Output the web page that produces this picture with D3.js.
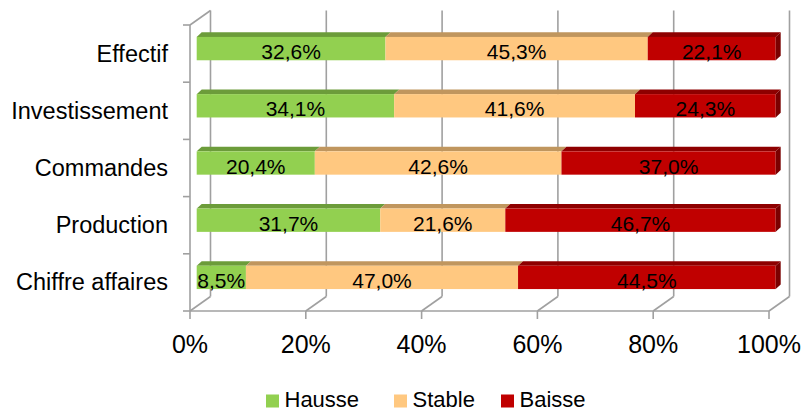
<!DOCTYPE html>
<html><head><meta charset="utf-8">
<script src="https://cdn.jsdelivr.net/npm/d3@7"></script>
<style>body{margin:0;background:#fff}svg{display:block;font-family:"Liberation Sans",Arial,sans-serif}</style>
</head><body><svg id="c" width="805" height="411"></svg>
<script>
const categories = ["Effectif","Investissement","Commandes","Production","Chiffre affaires"];
const seriesNames = ["Hausse","Stable","Baisse"];
const hausse = [32.6, 34.1, 20.4, 31.7, 8.5];
const stable = [45.3, 41.6, 42.6, 21.6, 47.0];
const baisse = [22.1, 24.3, 37.0, 46.7, 44.5];
const tickValues = [0,20,40,60,80,100];
const tickLabels = ["0%","20%","40%","60%","80%","100%"];

const frontCol = ["#92D050","#FFC880","#C00000"];
const topCol = ["#6C9C3A","#C0965E","#8E0000"];
const sideCol = "#7A0000";

const svg = d3.select("#c");
const X0 = 190, Y0 = 25, Y1 = 311;
const D = {x:20.5, y:-14.5};       // wall depth
const B0 = {x:6.7, y:-5.0};        // bar front offset
const BD = {x:5, y:-4.6};          // bar depth

const x = d3.scaleLinear().domain([0,100]).range([0,579]);
const y = d3.scaleBand().domain(categories).range([Y0,Y1]);
const barH = y.bandwidth()*0.408;

const grid = "#A0A0A0";
const g = svg.append("g");
tickValues.forEach(v=>{
  const fx = X0 + x(v);
  g.append("line").attr("x1",fx+D.x).attr("x2",fx+D.x).attr("y1",Y0+D.y).attr("y2",Y1+D.y)
    .attr("stroke",grid).attr("stroke-width",1.6);
  g.append("line").attr("x1",fx).attr("x2",fx+D.x).attr("y1",Y1).attr("y2",Y1+D.y)
    .attr("stroke",grid).attr("stroke-width",1.6);
  g.append("line").attr("x1",fx).attr("x2",fx).attr("y1",Y1).attr("y2",Y1+8)
    .attr("stroke",grid).attr("stroke-width",1.6);
});
g.append("line").attr("x1",X0).attr("y1",Y0).attr("x2",X0+D.x).attr("y2",Y0+D.y).attr("stroke",grid).attr("stroke-width",1.6);
g.append("line").attr("x1",X0).attr("x2",X0).attr("y1",Y0).attr("y2",Y1).attr("stroke",grid).attr("stroke-width",1.6);
g.append("line").attr("x1",X0).attr("x2",X0+x(100)).attr("y1",Y1).attr("y2",Y1).attr("stroke",grid).attr("stroke-width",1.6);
const yt = [Y0, ...categories.map(c=>y(c)+y.bandwidth())];
yt.forEach(t=>g.append("line").attr("x1",X0-7).attr("x2",X0).attr("y1",t).attr("y2",t).attr("stroke",grid).attr("stroke-width",1.6));

const series = [hausse, stable, baisse];
categories.forEach((c,i)=>{
  const cy = y(c) + y.bandwidth()/2 + B0.y;
  const top = cy - barH/2, bot = cy + barH/2;
  let acc = 0;
  series.forEach((s,k)=>{
    const v = s[i];
    const xa = X0 + B0.x + x(acc), xb = X0 + B0.x + x(acc+v);
    svg.append("path").attr("d",`M${xa},${top}L${xa+BD.x},${top+BD.y}L${xb+BD.x},${top+BD.y}L${xb},${top}Z`).attr("fill",topCol[k]);
    svg.append("rect").attr("x",xa).attr("y",top).attr("width",xb-xa).attr("height",barH).attr("fill",frontCol[k]);
    if(k===series.length-1){
      svg.append("path").attr("d",`M${xb},${top}L${xb+BD.x},${top+BD.y}L${xb+BD.x},${bot+BD.y}L${xb},${bot}Z`).attr("fill",sideCol);
    }
    svg.append("text").attr("x",(xa+xb)/2).attr("y",cy+10.5).attr("text-anchor","middle")
      .attr("font-size",21).attr("fill","#000").text(v.toFixed(1).replace(".",",")+"%");
    acc += v;
  });
  svg.append("text").attr("x",168).attr("y",y(c)+y.bandwidth()/2+8).attr("text-anchor","end")
    .attr("font-size",23.5).attr("fill","#000").text(c);
});

tickValues.forEach((v,j)=>{
  svg.append("text").attr("x",X0+x(v)).attr("y",352.5).attr("text-anchor","middle")
    .attr("font-size",25).attr("fill","#000").text(tickLabels[j]);
});

const legX = [266, 394, 501];
seriesNames.forEach((n,k)=>{
  svg.append("rect").attr("x",legX[k]).attr("y",394.5).attr("width",13).attr("height",13).attr("fill",frontCol[k]);
  svg.append("text").attr("x",legX[k]+18.5).attr("y",406.5).attr("font-size",22).attr("fill","#000").text(n);
});
</script></body></html>
